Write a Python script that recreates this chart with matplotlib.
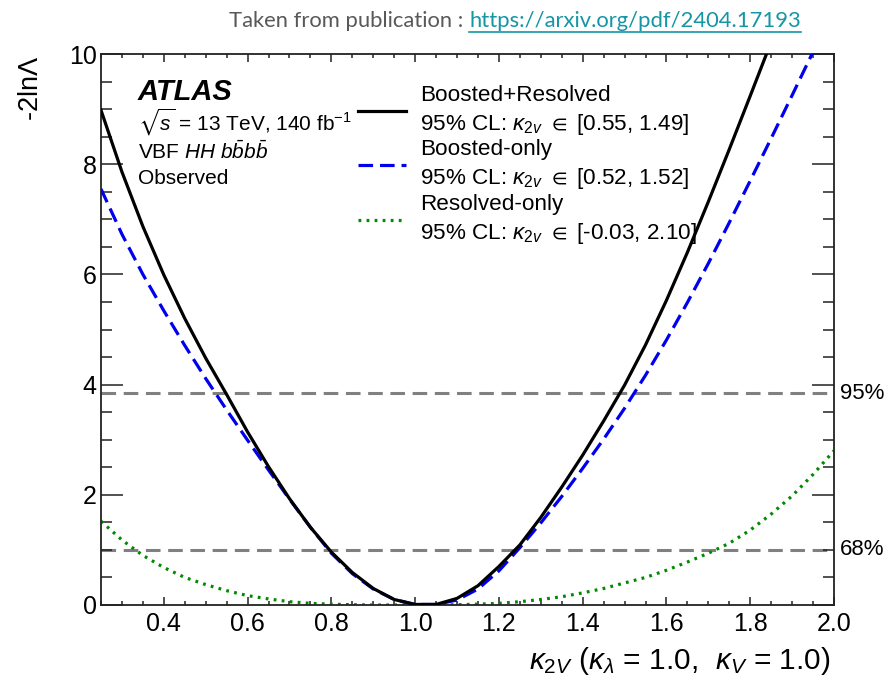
import matplotlib
matplotlib.use("Agg")
import matplotlib.pyplot as plt
from matplotlib.ticker import MultipleLocator, FormatStrFormatter
from matplotlib.lines import Line2D

plt.rcParams['font.family'] = ['Liberation Sans', 'DejaVu Sans']
plt.rcParams['mathtext.fontset'] = 'custom'
plt.rcParams['mathtext.rm'] = 'Liberation Sans'
plt.rcParams['mathtext.it'] = 'Liberation Sans:italic'
plt.rcParams['mathtext.bf'] = 'Liberation Sans:bold'
plt.rcParams['mathtext.fallback'] = 'stixsans'
plt.rcParams['lines.scale_dashes'] = False

# ---------------- data ----------------
x_comb = [0.25, 0.30, 0.35, 0.40, 0.45, 0.50, 0.55, 0.60, 0.65, 0.70, 0.75, 0.80,
          0.85, 0.90, 0.95, 1.00, 1.05, 1.10, 1.15, 1.20, 1.25, 1.30, 1.35, 1.40,
          1.45, 1.50, 1.55, 1.60, 1.65, 1.70, 1.75, 1.80, 1.85]
y_comb = [8.98, 7.86, 6.87, 5.99, 5.20, 4.48, 3.82, 3.14, 2.51, 1.93, 1.41, 0.96,
          0.59, 0.30, 0.10, 0.01, 0.01, 0.12, 0.35, 0.70, 1.09, 1.59, 2.14, 2.72,
          3.34, 3.99, 4.72, 5.53, 6.40, 7.32, 8.27, 9.24, 10.22]

x_boost = [0.25, 0.30, 0.35, 0.40, 0.45, 0.50, 0.55, 0.60, 0.65, 0.70, 0.75, 0.80,
           0.85, 0.90, 0.95, 1.00, 1.05, 1.10, 1.15, 1.20, 1.25, 1.30, 1.35, 1.40,
           1.45, 1.50, 1.55, 1.60, 1.65, 1.70, 1.75, 1.80, 1.85, 1.90, 1.95, 2.00]
y_boost = [7.55, 6.73, 6.00, 5.34, 4.71, 4.11, 3.54, 2.99, 2.45, 1.92, 1.41, 0.94,
           0.57, 0.29, 0.10, 0.01, 0.01, 0.09, 0.29, 0.62, 1.04, 1.49, 1.97, 2.48,
           3.01, 3.57, 4.17, 4.81, 5.49, 6.20, 6.94, 7.70, 8.47, 9.25, 10.04, 10.84]

x_res = [0.25, 0.30, 0.35, 0.40, 0.45, 0.50, 0.55, 0.60, 0.65, 0.70, 0.75, 0.80,
         0.85, 0.90, 0.95, 1.00, 1.05, 1.10, 1.15, 1.20, 1.25, 1.30, 1.35, 1.40,
         1.45, 1.50, 1.55, 1.60, 1.65, 1.70, 1.75, 1.80, 1.85, 1.90, 1.95, 2.00]
y_res = [1.52, 1.18, 0.90, 0.68, 0.50, 0.37, 0.26, 0.17, 0.11, 0.06, 0.03, 0.015,
         0.005, 0.0, 0.0, 0.0, 0.0, 0.005, 0.015, 0.03, 0.06, 0.10, 0.15, 0.22,
         0.30, 0.40, 0.50, 0.63, 0.78, 0.94, 1.12, 1.36, 1.65, 1.98, 2.37, 2.80]

cl_levels = [1.0, 3.84]
cl_labels = ['68%', '95%']

labels = [r"Boosted+Resolved" "\n" r"95% CL: $\kappa_{2v}$ $\in$ [0.55, 1.49]",
          r"Boosted-only" "\n" r"95% CL: $\kappa_{2v}$ $\in$ [0.52, 1.52]",
          r"Resolved-only" "\n" r"95% CL: $\kappa_{2v}$ $\in$ [-0.03, 2.10]"]

# ---------------- figure ----------------
W, H = 892, 683
fig = plt.figure(figsize=(W / 100, H / 100), dpi=100)
ax = fig.add_axes([101 / W, 1 - 605 / H, 733 / W, 551 / H])

ax.set_xlim(0.25, 2.0)
ax.set_ylim(0, 10)

for lvl in cl_levels:
    ax.axhline(lvl, color='#808080', lw=2.2, dashes=(10.5, 5.5), zorder=1)

ax.plot(x_res, y_res, color='#008a00', lw=2.3, dashes=(2.0, 3.8),
        dash_capstyle='butt', label=labels[2], zorder=2)
ax.plot(x_boost, y_boost, color='#0000ee', lw=2.3, dashes=(10.5, 5.0),
        label=labels[1], zorder=3)
ax.plot(x_comb, y_comb, color='black', lw=2.3, label=labels[0], zorder=4)

for lvl, lab in zip(cl_levels, cl_labels):
    ax.text(1.008, lvl, lab, transform=ax.get_yaxis_transform(), ha='left',
            va='center', fontsize=16, clip_on=False)

# ticks
ax.xaxis.set_major_locator(MultipleLocator(0.2))
ax.xaxis.set_minor_locator(MultipleLocator(0.05))
ax.yaxis.set_major_locator(MultipleLocator(2))
ax.yaxis.set_minor_locator(MultipleLocator(0.5))
ax.tick_params(axis='both', which='both', direction='in', top=True, right=True,
               width=1.1, color='#222222')
ax.tick_params(axis='x', which='major', length=5.5, pad=5, labelsize=18)
ax.tick_params(axis='x', which='minor', length=3)
ax.tick_params(axis='y', which='major', length=16, pad=3, labelsize=18)
ax.tick_params(axis='y', which='minor', length=8)
ax.xaxis.set_major_formatter(FormatStrFormatter('%.1f'))
ax.yaxis.set_major_formatter(FormatStrFormatter('%d'))
for sp in ax.spines.values():
    sp.set_linewidth(1.3)
    sp.set_color('#222222')

# axis titles
fig.text(830 / W, 1 - 661 / H,
         r"$\kappa_{2V}$ ($\kappa_{\lambda}$ = 1.0,  $\kappa_{V}$ = 1.0)",
         ha='right', va='center', fontsize=21.5)
fig.text(31 / W, 1 - 56 / H, r"-2ln$\Lambda$", rotation=90, ha='center',
         va='top', fontsize=19.5)

# ATLAS label
ax.text(0.0505, 0.931, "ATLAS", transform=ax.transAxes, fontsize=21,
        fontweight='bold', style='italic', va='center', ha='left')
ax.text(0.0505, 0.876, r"$\sqrt{s}$ = 13 TeV, 140 fb$^{-1}$",
        transform=ax.transAxes, fontsize=15, va='center', ha='left')
ax.text(0.0505, 0.823, r"VBF $HH$ $b\bar{b}b\bar{b}$",
        transform=ax.transAxes, fontsize=15, va='center', ha='left')
ax.text(0.0505, 0.774, "Observed", transform=ax.transAxes, fontsize=15,
        va='center', ha='left')

# legend
h = ax.get_legend_handles_labels()
order = [2, 1, 0]
handles = [h[0][i] for i in order]
labs = [h[1][i] for i in order]
leg = ax.legend(handles, labs, loc='upper left', bbox_to_anchor=(0.3506, 0.944),
                frameon=False, fontsize=16.2, handlelength=2.15, handletextpad=0.6,
                labelspacing=0.12, borderpad=0, borderaxespad=0)
for t in leg.get_texts():
    t.set_linespacing(1.32)

# header
t1 = fig.text(0.5, 1 - 21 / H, "Taken from publication : ", ha='left', va='center',
              fontsize=15.8, color='#595959', family='Lato')
t2 = fig.text(0.5, 1 - 21 / H, "https://arxiv.org/pdf/2404.17193", ha='left',
              va='center', fontsize=15.8, color='#1496a5', family='Lato')
fig.canvas.draw()
r = fig.canvas.get_renderer()
w1 = t1.get_window_extent(r).width
w2 = t2.get_window_extent(r).width
left = 515 - (w1 + w2) / 2
t1.set_x(left / W)
t2.set_x((left + w1) / W)
fig.canvas.draw()
bb = t2.get_window_extent(r)
fig.add_artist(Line2D([bb.x0 / W, bb.x1 / W], [(bb.y0 - 1) / H, (bb.y0 - 1) / H],
                      color='#1496a5', lw=1.2, transform=fig.transFigure))

fig.savefig("out.png", dpi=100, facecolor='white')
